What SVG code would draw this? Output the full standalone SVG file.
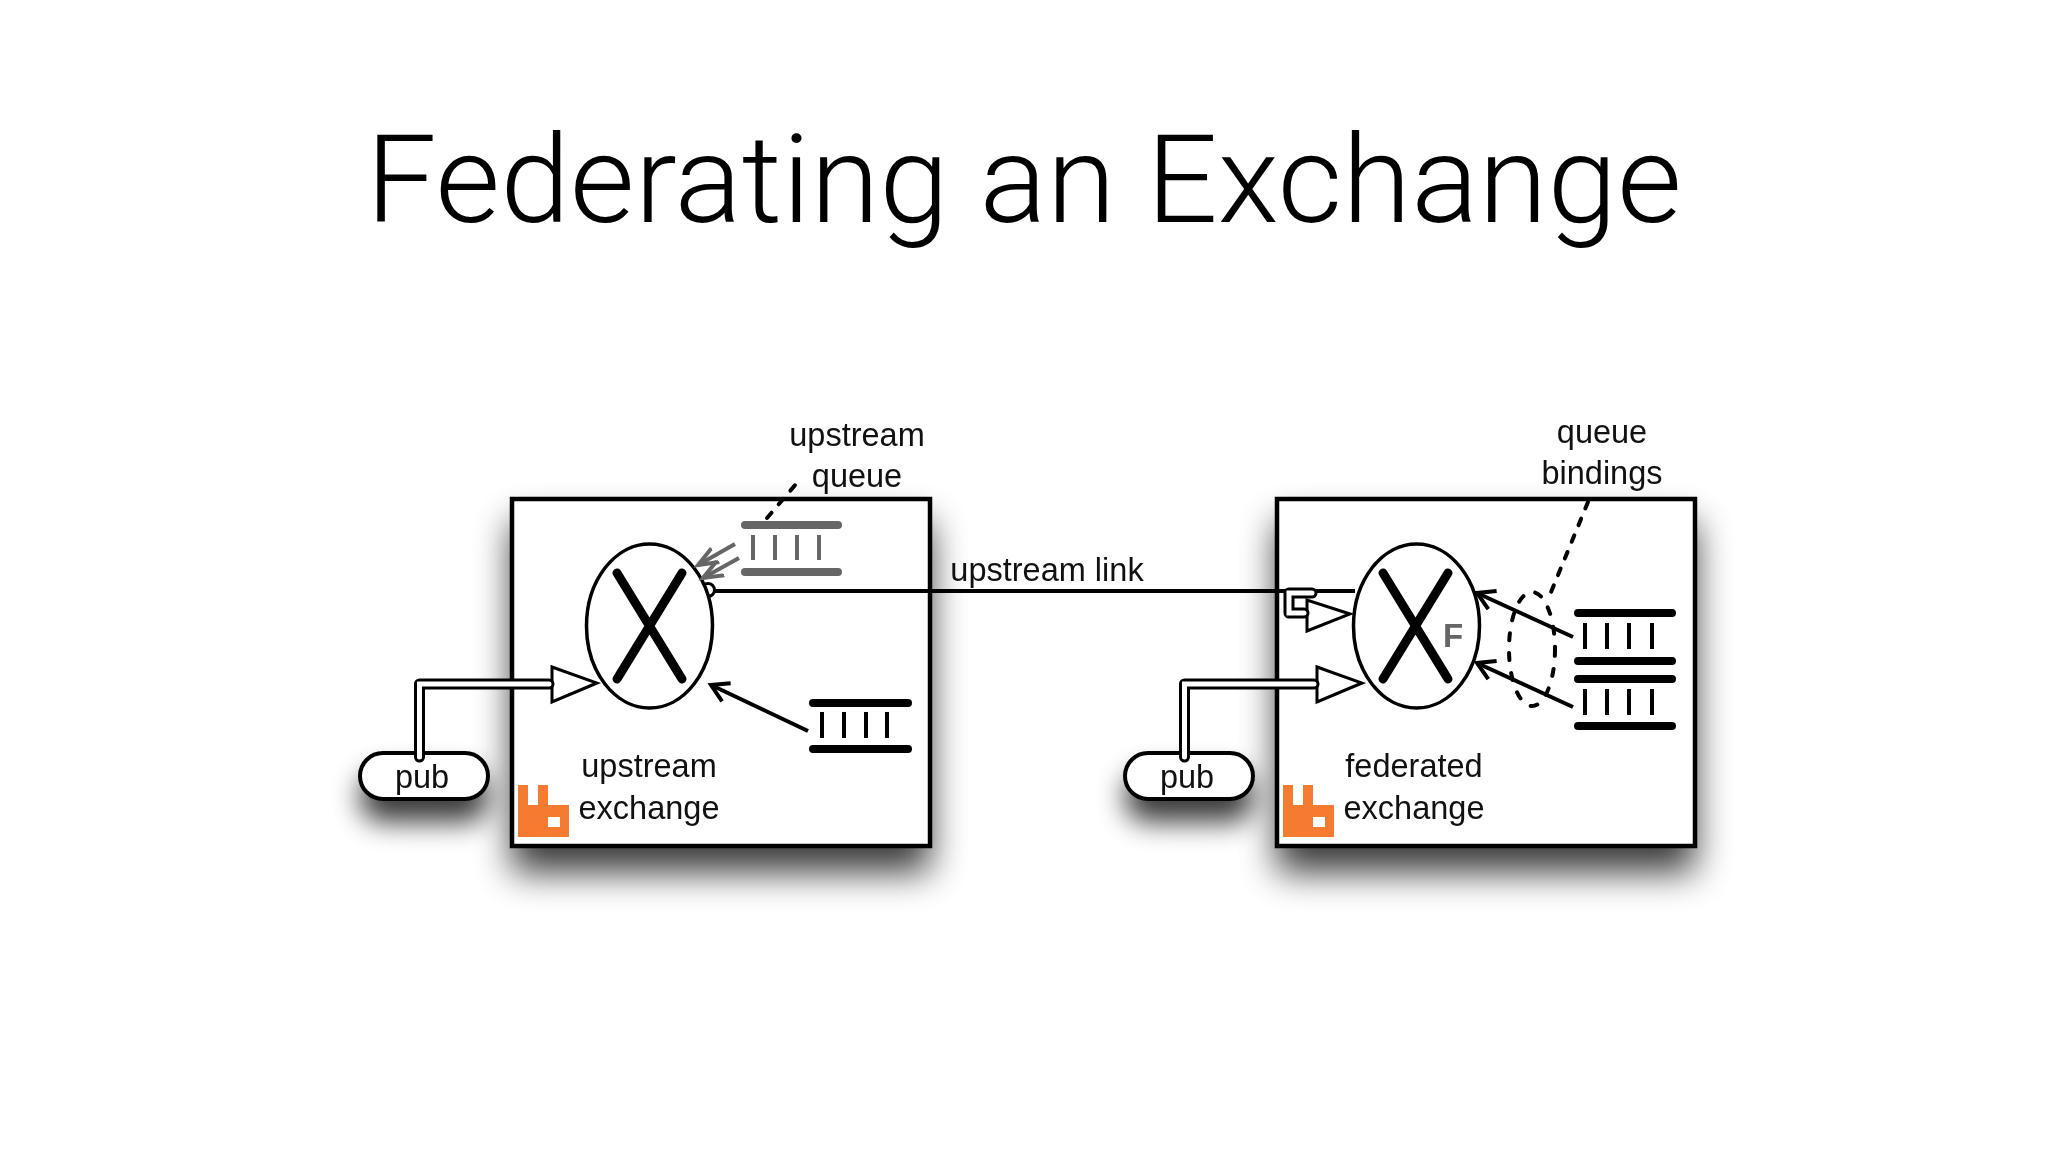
<svg xmlns="http://www.w3.org/2000/svg" width="2048" height="1152" viewBox="0 0 2048 1152">
<defs>
<style>
.t{font-family:"Liberation Sans",Arial,sans-serif;font-size:32.500px;fill:#111;text-anchor:middle}
.box{fill:#fff;stroke:#000;stroke-width:4.500}
.pill{fill:#fff;stroke:#000;stroke-width:4}
.sh{fill:#000;filter:url(#blur)}
.shp{fill:#000;filter:url(#blurp)}
.ex{fill:#fff;stroke:#000;stroke-width:3.500}
.x{fill:none;stroke:#000;stroke-width:9;stroke-linecap:round}
.bar{fill:none;stroke:#000;stroke-width:8;stroke-linecap:round}
.tick{fill:none;stroke:#000;stroke-width:4}
.g{stroke:#666}
.tri{fill:#fff;stroke:#000;stroke-width:3}
.dblo{fill:none;stroke:#000;stroke-width:11;stroke-linecap:round;stroke-linejoin:round}
.dbli{fill:none;stroke:#fff;stroke-width:5;stroke-linecap:round;stroke-linejoin:miter}
.arr{fill:none;stroke:#000;stroke-width:4;marker-end:url(#open)}
.arg{fill:none;stroke:#666;stroke-width:4;marker-end:url(#openg)}
.dot{fill:none;stroke:#000;stroke-width:4;stroke-linecap:round;stroke-dasharray:7 11}
.logo{fill:#f47b30}
</style>
<filter id="blur" x="-30%" y="-30%" width="160%" height="170%"><feGaussianBlur stdDeviation="18"/></filter>
<filter id="blurp" x="-50%" y="-150%" width="200%" height="400%"><feGaussianBlur stdDeviation="14"/></filter>
<marker id="open" markerUnits="userSpaceOnUse" markerWidth="40" markerHeight="40" refX="20" refY="20" orient="auto"><path d="M3,10 L20,20 L3,30" fill="none" stroke="#000" stroke-width="4"/></marker>
<marker id="openg" markerUnits="userSpaceOnUse" markerWidth="40" markerHeight="40" refX="20" refY="20" orient="auto"><path d="M0,12 L20,20 L0,28" fill="none" stroke="#666" stroke-width="4"/></marker>
<path id="rabbit" d="M0,0 H10 V20 H20 V0 H30 V20 H51 V52 H0 Z M30,32 V42 H42 V32 Z" fill-rule="evenodd"/>
</defs>
<rect width="2048" height="1152" fill="#fff"/>
<text id="title" x="1024" y="222" text-anchor="middle" textLength="1316" lengthAdjust="spacingAndGlyphs" style="font-family:Roboto,'Liberation Sans',sans-serif;font-weight:300;font-size:123px;fill:#000">Federating an Exchange</text>

<g id="shadows" opacity="0.78">
<rect class="sh" x="512" y="522" width="418" height="350"/>
<rect class="sh" x="1277" y="522" width="418" height="350"/>
<rect class="shp" x="360" y="772" width="129" height="50" rx="23"/>
<rect class="shp" x="1125" y="772" width="129" height="50" rx="23"/>
</g>

<g id="broker-upstream"><rect class="box" x="512" y="499" width="418" height="347"/></g>
<g id="broker-federated"><rect class="box" x="1277" y="499" width="418" height="347"/></g>

<g id="pub-upstream"><rect class="pill" x="360" y="753" width="128" height="46" rx="23"/><text class="t" x="422" y="788">pub</text></g>
<g id="pub-federated"><rect class="pill" x="1125" y="753" width="128" height="46" rx="23"/><text class="t" x="1187" y="788">pub</text></g>

<g id="logo-upstream" class="logo"><use href="#rabbit" x="518" y="785"/></g>
<g id="logo-federated" class="logo"><use href="#rabbit" x="1283" y="785"/></g>

<g id="exchange-upstream">
<circle cx="708" cy="590" r="6.500" fill="#fff" stroke="#000" stroke-width="3"/>
<ellipse class="ex" cx="649.500" cy="626" rx="63" ry="82"/>
<path class="x" d="M617,573 L682,679 M682,573 L617,679"/>
</g>
<g id="exchange-federated">
<ellipse class="ex" cx="1416.500" cy="626" rx="63" ry="82"/>
<path class="x" d="M1383,573 L1448,679 M1448,573 L1383,679"/>
<text x="1453" y="647" text-anchor="middle" style="font-family:'Liberation Sans',Arial,sans-serif;font-weight:700;font-size:33px;fill:#666">F</text>
</g>

<g id="queue-upstream">
<path class="bar g" d="M745,525 H838 M745,572 H838"/>
<path class="tick g" d="M753,535 V560 M775,535 V560 M797,535 V560 M819,535 V560"/>
</g>
<g id="queue-local">
<path class="bar" d="M813,703 H908 M813,749 H908"/>
<path class="tick" d="M822,712 V738 M844,712 V738 M866,712 V738 M887,712 V738"/>
</g>
<g id="queue-fed-1">
<path class="bar" d="M1578,613 H1672 M1578,661 H1672"/>
<path class="tick" d="M1585,623 V649 M1607,623 V649 M1629,623 V649 M1652,623 V649"/>
</g>
<g id="queue-fed-2">
<path class="bar" d="M1578,679 H1672 M1578,726 H1672"/>
<path class="tick" d="M1585,689 V715 M1607,689 V715 M1629,689 V715 M1652,689 V715"/>
</g>

<g id="connectors">
<path class="arg" d="M735,544 L698,565"/>
<path class="arg" d="M739,558 L703,578"/>
<path d="M714,591 H1355" fill="none" stroke="#000" stroke-width="4"/>
<path class="arr" d="M808,731 L711,685"/>
<path class="arr" d="M1573,637 L1477,593"/>
<path class="arr" d="M1573,707 L1477,663"/>

<path class="tri" d="M552,667 V702 L597,683 Z"/>
<path class="dblo" d="M419.500,757 V684 H549"/>
<path class="dbli" d="M419.500,757 V684 H549"/>

<path class="tri" d="M1317,667 V702 L1362,683 Z"/>
<path class="dblo" d="M1184.500,757 V684 H1314"/>
<path class="dbli" d="M1184.500,757 V684 H1314"/>

<path class="tri" d="M1307,600 V631 L1350,614 Z"/>
<path class="dblo" d="M1312,593 H1289 V613 H1304"/>
<path class="dbli" d="M1312,593 H1289 V613 H1304"/>

<path class="dot" d="M767,518 L802,477"/>
<path class="dot" d="M1588,502 L1549,597"/>
<ellipse cx="1532" cy="649" rx="23" ry="57" fill="none" stroke="#000" stroke-width="4" stroke-linecap="round" stroke-dasharray="7 13"/>
</g>

<g id="labels">
<text class="t" x="857" y="446">upstream</text>
<text class="t" x="857" y="487">queue</text>
<text class="t" x="649" y="777">upstream</text>
<text class="t" x="649" y="819">exchange</text>
<text class="t" x="1047" y="581">upstream link</text>
<text class="t" x="1602" y="443">queue</text>
<text class="t" x="1602" y="484">bindings</text>
<text class="t" x="1414" y="777">federated</text>
<text class="t" x="1414" y="819">exchange</text>
</g>
</svg>
